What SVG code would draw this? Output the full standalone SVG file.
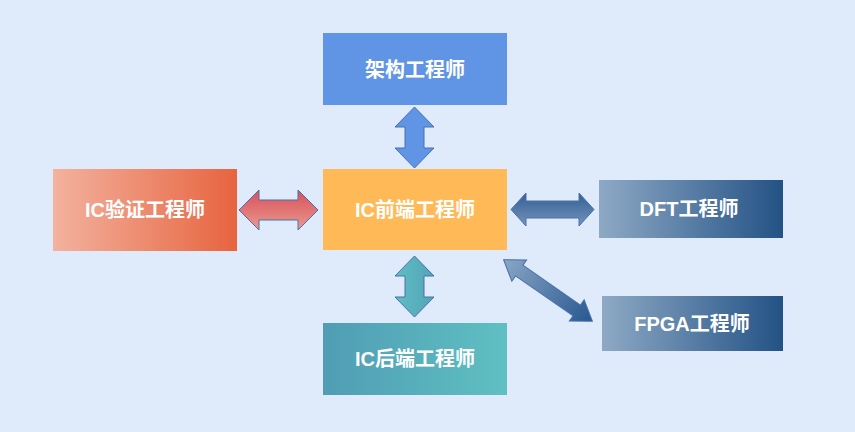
<svg xmlns="http://www.w3.org/2000/svg" width="855" height="432" viewBox="0 0 855 432">
<defs>
<linearGradient id="gLeft" x1="0" y1="0" x2="1" y2="0"><stop offset="0" stop-color="#f3b29f"/><stop offset="1" stop-color="#e7643f"/></linearGradient>
<linearGradient id="gBlue" x1="0" y1="0" x2="1" y2="0"><stop offset="0" stop-color="#8ea9c5"/><stop offset="1" stop-color="#235285"/></linearGradient>
<linearGradient id="gTeal" x1="0" y1="0" x2="1" y2="0"><stop offset="0" stop-color="#509db4"/><stop offset="1" stop-color="#5fc0c2"/></linearGradient>
<linearGradient id="gTealA" x1="0" y1="0" x2="1" y2="0"><stop offset="0" stop-color="#5fbec2"/><stop offset="1" stop-color="#52a4b8"/></linearGradient>
<linearGradient id="gRedA" x1="0" y1="0" x2="0" y2="1"><stop offset="0" stop-color="#d8505a"/><stop offset="1" stop-color="#ea9a8e"/></linearGradient>
<linearGradient id="gDftA" x1="0" y1="0" x2="0" y2="1"><stop offset="0" stop-color="#335f93"/><stop offset="1" stop-color="#7394bb"/></linearGradient>
<linearGradient id="gDiagA" x1="0" y1="0" x2="1" y2="0"><stop offset="0" stop-color="#8aa6c5"/><stop offset="1" stop-color="#275890"/></linearGradient>
</defs>
<style>
.lbl{font-family:"Liberation Sans","Noto Sans CJK SC",sans-serif;font-weight:bold;font-size:20px;fill:#ffffff;text-anchor:middle}
.arr{stroke:#4a70ac;stroke-width:1;stroke-linejoin:miter}
</style>
<rect width="855" height="432" fill="#dfeafa"/>
<g id="connectors">
<path class="arr" fill="#5f95e4" d="M414.5,107 L434,127 L424,127 L424,148 L434,148 L414.5,168 L395,148 L405,148 L405,127 L395,127 Z"/>
<path class="arr" fill="url(#gTealA)" d="M414.5,256 L434,276 L424,276 L424,297 L434,297 L414.5,317 L395,297 L405,297 L405,276 L395,276 Z"/>
<path class="arr" fill="url(#gRedA)" d="M239,210 L259,190 L259,200 L298,200 L298,190 L318,210 L298,230 L298,220 L259,220 L259,230 Z"/>
<path class="arr" fill="url(#gDftA)" d="M511,209.5 L526,193 L526,201 L579,201 L579,193 L594,209.5 L579,226 L579,218 L526,218 L526,226 Z"/>
<g transform="translate(548,290.5) rotate(34.7)">
<path class="arr" fill="url(#gDiagA)" d="M-54,0 L-35,-13 L-35,-6.5 L35,-6.5 L35,-13 L54,0 L35,13 L35,6.5 L-35,6.5 L-35,13 Z"/>
</g>
</g>
<g id="node-arch"><rect x="323" y="33" width="184" height="72" fill="#5f95e4"/><text class="lbl" x="415" y="77">架构工程师</text></g>
<g id="node-front"><rect x="323" y="169" width="184" height="81" fill="#ffb957"/><text class="lbl" x="415" y="217">IC前端工程师</text></g>
<g id="node-verify"><rect x="53" y="169" width="184" height="82" fill="url(#gLeft)"/><text class="lbl" x="145" y="217">IC验证工程师</text></g>
<g id="node-dft"><rect x="599" y="180" width="184" height="58" fill="url(#gBlue)"/><text class="lbl" x="689" y="216">DFT工程师</text></g>
<g id="node-fpga"><rect x="602" y="296" width="181" height="55" fill="url(#gBlue)"/><text class="lbl" x="692" y="331">FPGA工程师</text></g>
<g id="node-back"><rect x="323" y="323" width="184" height="72" fill="url(#gTeal)"/><text class="lbl" x="415" y="366">IC后端工程师</text></g>
</svg>
